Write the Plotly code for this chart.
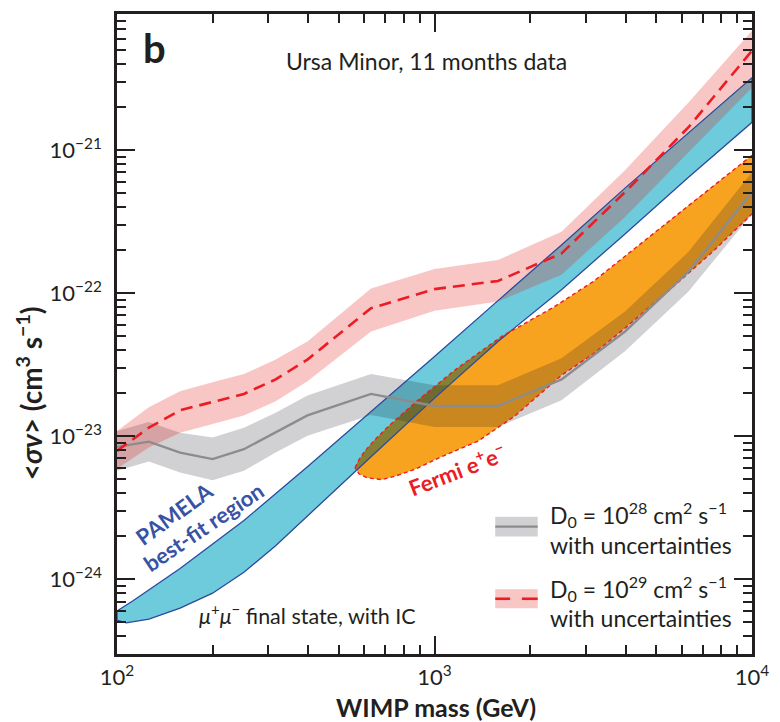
import numpy as np
import plotly.graph_objects as go

# ---------------- data ----------------
# Upper limits on <sigma v> for Ursa Minor, mu+mu- channel with IC
band_mass = [100, 126, 158, 200, 251, 316, 398, 631, 1000, 1585, 2512, 3981, 6310, 10000]

# D0 = 1e28 cm^2 s^-1
d28_sv = [8.43e-24, 9.18e-24, 7.70e-24, 6.93e-24, 8.13e-24, 1.06e-23, 1.40e-23,
          1.98e-23, 1.63e-23, 1.63e-23, 2.50e-23, 5.41e-23, 1.42e-22, 5.10e-22]
d28_high = [1.09e-23, 1.26e-23, 1.06e-23, 9.8e-24, 1.15e-23, 1.46e-23, 1.93e-23,
            2.73e-23, 2.28e-23, 2.28e-23, 3.52e-23, 7.46e-23, 1.95e-22, 7.03e-22]
d28_low = [5.74e-24, 6.67e-24, 5.59e-24, 4.94e-24, 5.74e-24, 7.70e-24, 1.01e-23,
           1.41e-23, 1.16e-23, 1.16e-23, 1.79e-23, 3.93e-23, 1.03e-22, 3.59e-22]

# D0 = 1e29 cm^2 s^-1
d29_sv = [7.91e-24, 1.15e-23, 1.52e-23, 1.74e-23, 1.98e-23, 2.50e-23, 3.44e-23,
          7.87e-23, 1.07e-22, 1.22e-22, 1.90e-22, 5.10e-22, 1.45e-21, 4.97e-21]
d29_high = [1.09e-23, 1.60e-23, 2.07e-23, 2.39e-23, 2.73e-23, 3.44e-23, 4.61e-23,
            1.08e-22, 1.48e-22, 1.71e-22, 2.69e-22, 7.26e-22, 2.16e-21, 6.84e-21]
d29_low = [5.93e-24, 8.34e-24, 1.06e-23, 1.22e-23, 1.40e-23, 1.76e-23, 2.43e-23,
           5.41e-23, 7.55e-23, 8.75e-23, 1.35e-22, 3.42e-22, 9.68e-22, 2.74e-21]

# PAMELA best-fit region (upper and lower boundaries)
pamela_hi_mass = [100, 112, 158, 251, 398, 631, 1000, 1585, 2512, 3981, 6310, 10000]
pamela_hi_sv = [6.0e-25, 7.05e-25, 1.19e-24, 2.58e-24, 6.12e-24, 1.48e-23, 3.62e-23,
                8.89e-23, 2.18e-22, 5.44e-22, 1.33e-21, 3.22e-21]
pamela_lo_mass = [100, 107, 126, 158, 200, 251, 316, 398, 631, 1000, 1585, 2512, 3981, 6310, 10000]
pamela_lo_sv = [5.19e-25, 4.97e-25, 5.27e-25, 6.29e-25, 8.0e-25, 1.12e-24, 1.72e-24, 2.75e-24,
                7.20e-24, 1.85e-23, 4.61e-23, 1.06e-22, 2.60e-22, 6.49e-22, 1.57e-21]

# Fermi e+e- best-fit region (upper and lower boundaries)
fermi_hi_mass = [562, 578, 604, 648, 717, 887, 1167, 1630, 2388, 3179, 4144, 6508, 10000, 12400, 13800]
fermi_hi_sv = [6.03e-24, 6.86e-24, 7.91e-24, 9.44e-24, 1.18e-23, 1.79e-23, 2.94e-23, 5.0e-23,
               8.07e-23, 1.22e-22, 1.95e-22, 4.35e-22, 9.23e-22, 1.33e-21, 1.38e-21]
fermi_lo_mass = [562, 578, 612, 682, 759, 876, 1033, 1375, 1793, 2510, 3179, 3970, 5640, 7510,
                 10000, 12400, 13800]
fermi_lo_sv = [6.03e-24, 5.47e-24, 5.14e-24, 4.98e-24, 5.30e-24, 5.93e-24, 7.08e-24, 9.29e-24,
               1.39e-23, 2.67e-23, 3.80e-23, 5.68e-23, 1.11e-22, 1.95e-22, 3.59e-22, 5.98e-22, 1.05e-21]

x_tick_vals = [1e2, 1e3, 1e4]
x_tick_text = ["10<sup>2</sup>", "10<sup>3</sup>", "10<sup>4</sup>"]
y_tick_vals = [1e-24, 1e-23, 1e-22, 1e-21]
y_tick_text = ["10<sup>\u221224</sup>", "10<sup>\u221223</sup>", "10<sup>\u221222</sup>", "10<sup>\u221221</sup>"]

# ---------------- styling ----------------
FONT = "Lato"
INK = "#231F20"
CYAN = "#6DCBDC"
ORANGE = "#F7A31F"
OLIVE = "#848036"
BLUE = "#2B4A9E"
RED = "#EC1C24"
GREY_LINE = "#8C8C8C"
GREY_BAND = "rgba(25,25,35,0.20)"   # darkens whatever lies beneath it
PINK_BAND = "rgba(227,27,19,0.25)"

W, H = 780, 722
L, R, T, B = 117, 20, 11, 68
PW, PH = W - L - R, H - T - B


def paper(xp, yp):
    return (xp - L) / PW, (H - B - yp) / PH


def band_polygon(m, lo, hi):
    return list(m) + list(m)[::-1], list(hi) + list(lo)[::-1]


def region_polygon(m_hi, s_hi, m_lo, s_lo):
    return list(m_hi) + list(m_lo)[::-1], list(s_hi) + list(s_lo)[::-1]


lg = lambda a: np.log10(np.asarray(a, dtype=float))

# overlap of PAMELA and Fermi regions (both single-valued in mass), in log space
grid = np.linspace(lg(fermi_hi_mass)[0], 4.0, 800)
top = np.minimum(np.interp(grid, lg(pamela_hi_mass), lg(pamela_hi_sv)),
                 np.interp(grid, lg(fermi_hi_mass), lg(fermi_hi_sv)))
bot = np.maximum(np.interp(grid, lg(pamela_lo_mass), lg(pamela_lo_sv)),
                 np.interp(grid, lg(fermi_lo_mass), lg(fermi_lo_sv)))
ok = top > bot
ov_x = 10 ** np.concatenate([grid[ok], grid[ok][::-1]])
ov_y = 10 ** np.concatenate([top[ok], bot[ok][::-1]])

fig = go.Figure()

px_, py_ = region_polygon(pamela_hi_mass, pamela_hi_sv, pamela_lo_mass, pamela_lo_sv)
fig.add_trace(go.Scatter(x=px_, y=py_, fill="toself", fillcolor=CYAN, mode="none",
                         hoverinfo="skip", showlegend=False))
fx_, fy_ = region_polygon(fermi_hi_mass, fermi_hi_sv, fermi_lo_mass, fermi_lo_sv)
fig.add_trace(go.Scatter(x=fx_, y=fy_, fill="toself", fillcolor=ORANGE, mode="none",
                         hoverinfo="skip", showlegend=False))
fig.add_trace(go.Scatter(x=ov_x, y=ov_y, fill="toself", fillcolor=OLIVE, mode="none",
                         hoverinfo="skip", showlegend=False))

gx, gy = band_polygon(band_mass, d28_low, d28_high)
fig.add_trace(go.Scatter(x=gx, y=gy, fill="toself", fillcolor=GREY_BAND, mode="none",
                         hoverinfo="skip", showlegend=False))
rx, ry = band_polygon(band_mass, d29_low, d29_high)
fig.add_trace(go.Scatter(x=rx, y=ry, fill="toself", fillcolor=PINK_BAND, mode="none",
                         hoverinfo="skip", showlegend=False))

# outlines
fig.add_trace(go.Scatter(x=px_ + [px_[0]], y=py_ + [py_[0]], mode="lines",
                         line=dict(color=BLUE, width=1.3), hoverinfo="skip", showlegend=False))
fig.add_trace(go.Scatter(x=fx_ + [fx_[0]], y=fy_ + [fy_[0]], mode="lines",
                         line=dict(color=RED, width=1.4, dash="4px,3px"),
                         hoverinfo="skip", showlegend=False))

# central curves
fig.add_trace(go.Scatter(x=band_mass, y=d28_sv, mode="lines",
                         line=dict(color=GREY_LINE, width=2.4), showlegend=False))
fig.add_trace(go.Scatter(x=band_mass, y=d29_sv, mode="lines",
                         line=dict(color=RED, width=2.6, dash="12px,7px"), showlegend=False))

minor_x = [k * 10 ** d for d in (2, 3) for k in range(2, 10)]
minor_y = [k * 10.0 ** d for d in (-25, -24, -23, -22, -21) for k in range(2, 10)]

axis_common = dict(
    showgrid=False, zeroline=False, showline=True, linecolor=INK, linewidth=2.5,
    mirror="allticks", ticks="inside", ticklen=18, tickwidth=2, tickcolor=INK,
    tickfont=dict(family=FONT, size=22, color=INK), tickmode="array",
)

fig.update_xaxes(type="log", range=[2, 4], tickvals=x_tick_vals, ticktext=x_tick_text,
                 minor=dict(tickmode="array", tickvals=minor_x, ticks="inside", ticklen=9,
                            tickwidth=2, tickcolor=INK, showgrid=False),
                 ticklabelstandoff=2, **axis_common)
fig.update_yaxes(type="log", range=[-24.522, -20.047], tickvals=y_tick_vals, ticktext=y_tick_text,
                 minor=dict(tickmode="array", tickvals=minor_y, ticks="inside", ticklen=9,
                            tickwidth=2, tickcolor=INK, showgrid=False),
                 ticklabelstandoff=8, **axis_common)

ann = []


def text(xp, yp, s, size, color=INK, angle=0, xanchor="center", align="center"):
    x, y = paper(xp, yp)
    ann.append(dict(x=x, y=y, xref="paper", yref="paper", text=s, showarrow=False,
                    textangle=angle, xanchor=xanchor, yanchor="middle", align=align,
                    font=dict(family=FONT, size=size, color=color)))


text(155, 45, "<b>b</b>", 40)
text(430, 58, "Ursa Minor, 11 months data", 23)
text(310, 614, "<i>\u03bc</i><sup>+</sup><i>\u03bc</i><sup>\u2212</sup> final state, with IC", 21.5)
text(175, 513, "<b>PAMELA</b>", 22, color="#3953A4", angle=-36)
text(205, 526, "<b>best-fit region</b>", 22, color="#3953A4", angle=-34)
text(461, 469, "<b>Fermi e<sup>+</sup>e<sup>\u2212</sup></b>", 22, color=RED, angle=-21)
text(440, 707, "<b>WIMP mass (GeV)</b>", 25)
text(28, 392, "<b>&lt;<i>\u03c3v</i>&gt; (cm<sup>3</sup> s<sup>\u22121</sup>)</b>", 28, angle=-90)

# legend
text(553, 514, "D<sub>0</sub> = 10<sup>28</sup> cm<sup>2</sup> s<sup>\u22121</sup>", 23, xanchor="left")
text(553, 544, "with uncertainties", 23, xanchor="left")
text(553, 588, "D<sub>0</sub> = 10<sup>29</sup> cm<sup>2</sup> s<sup>\u22121</sup>", 23, xanchor="left")
text(553, 618, "with uncertainties", 23, xanchor="left")

shapes = []
x0, y0 = paper(500, 536)
x1, y1 = paper(543, 516)
shapes.append(dict(type="rect", xref="paper", yref="paper", x0=x0, x1=x1, y0=y0, y1=y1,
                   fillcolor=GREY_BAND, line=dict(width=0)))
_, ym = paper(0, 526)
shapes.append(dict(type="line", xref="paper", yref="paper", x0=x0, x1=x1, y0=ym, y1=ym,
                   line=dict(color=GREY_LINE, width=2.4)))
x0, y0 = paper(500, 608)
x1, y1 = paper(543, 589)
shapes.append(dict(type="rect", xref="paper", yref="paper", x0=x0, x1=x1, y0=y0, y1=y1,
                   fillcolor=PINK_BAND, line=dict(width=0)))
_, ym = paper(0, 598.5)
for a, b in ((500, 515), (527, 543)):
    xa, _ = paper(a, 0)
    xb, _ = paper(b, 0)
    shapes.append(dict(type="line", xref="paper", yref="paper", x0=xa, x1=xb, y0=ym, y1=ym,
                       line=dict(color=RED, width=2.6)))

fig.update_layout(
    width=W, height=H, margin=dict(l=L, r=R, t=T, b=B),
    paper_bgcolor="white", plot_bgcolor="white",
    font=dict(family=FONT, color=INK), annotations=ann, shapes=shapes,
    showlegend=False,
)

fig.write_html("out.html")
